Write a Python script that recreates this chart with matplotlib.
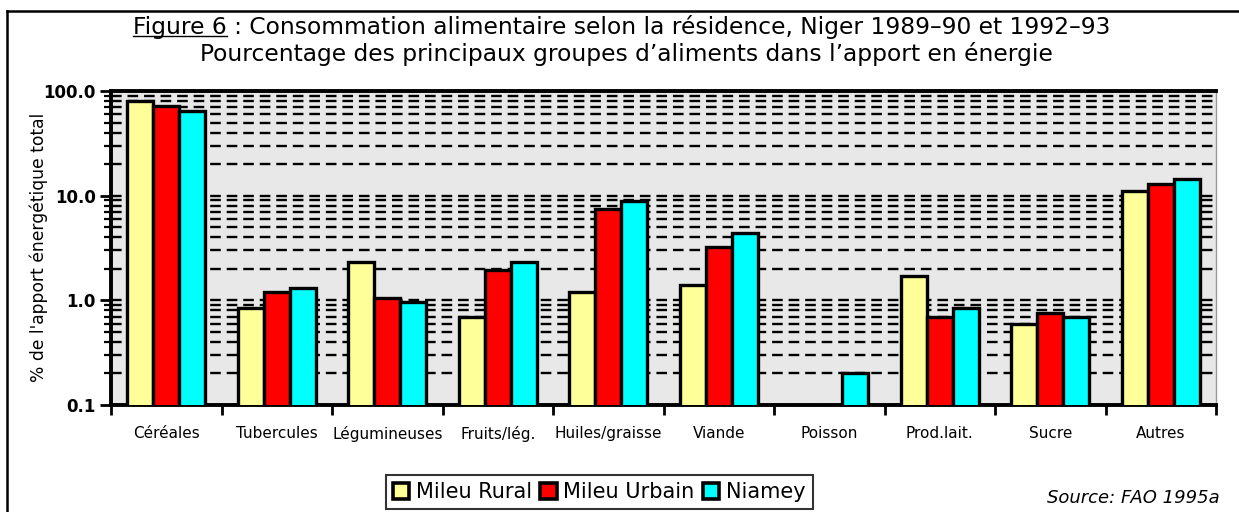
import numpy as np
import matplotlib
matplotlib.use('Agg')
import matplotlib.pyplot as plt
from matplotlib.lines import Line2D
from matplotlib.patches import Patch
from matplotlib.ticker import LogLocator, NullFormatter, FixedLocator

categories = ["Céréales", "Tubercules", "Légumineuses", "Fruits/lég.", "Huiles/graisse",
              "Viande", "Poisson", "Prod.lait.", "Sucre", "Autres"]
rural = [80, 0.85, 2.3, 0.7, 1.2, 1.4, np.nan, 1.7, 0.6, 11]
urbain = [72, 1.2, 1.05, 1.95, 7.5, 3.2, np.nan, 0.7, 0.75, 13]
niamey = [65, 1.3, 0.97, 2.3, 8.8, 4.4, 0.2, 0.85, 0.7, 14.5]
series_names = ["Mileu Rural", "Mileu Urbain", "Niamey"]
colors = ["#FFFF99", "#FF0000", "#00FFFF"]
yticks = [0.1, 1, 10, 100]
ytick_labels = ["0.1", "1.0", "10.0", "100.0"]
title1 = "Figure 6 : Consommation alimentaire selon la résidence, Niger 1989–90 et 1992–93"
title2 = "Pourcentage des principaux groupes d’aliments dans l’apport en énergie"
ylabel = "% de l'apport énergétique total"
source = "Source: FAO 1995a"

SANS = ['DejaVu Sans']

W, H = 1239, 512
fig = plt.figure(figsize=(W / 100, H / 100), dpi=100)
fig.patch.set_facecolor('white')
ax = fig.add_axes([111 / W, 1 - 405 / H, (1216 - 111) / W, (405 - 91) / H])
ax.set_facecolor('#E8E8E8')
ax.set_yscale('log')

x = np.arange(len(categories))
w = 0.235
for k, (vals, col) in enumerate(zip([rural, urbain, niamey], colors)):
    ax.bar(x + (k - 1) * w, vals, w, color=col, edgecolor='black', linewidth=2.4, zorder=3)

ax.set_ylim(0.1, 100)
ax.set_xlim(-0.5, len(categories) - 0.5)

ax.yaxis.set_major_locator(FixedLocator(yticks))
ax.set_yticklabels(ytick_labels, family=SANS, fontsize=12, fontweight='bold')
ax.yaxis.set_minor_locator(LogLocator(base=10, subs=range(2, 10)))
ax.yaxis.set_minor_formatter(NullFormatter())
ax.tick_params(axis='y', which='major', length=8, width=2, direction='out', pad=3)
ax.tick_params(axis='y', which='minor', length=5, width=1.6, direction='out')

ax.set_xticks(np.arange(-0.5, len(categories)), minor=False)
ax.set_xticklabels([])
ax.set_xticks(x, minor=True)
ax.set_xticklabels(categories, minor=True, family=SANS, fontsize=11)
ax.tick_params(axis='x', which='major', length=7, width=2, direction='out')
ax.tick_params(axis='x', which='minor', length=0, pad=15)

ax.yaxis.grid(True, which='both', color='black', linestyle=(0, (4.5, 2.5)), linewidth=1.7)
ax.xaxis.grid(False)
ax.set_axisbelow(True)

for s in ['top', 'left', 'bottom']:
    ax.spines[s].set_linewidth(2.8)
    ax.spines[s].set_color('black')
ax.spines['right'].set_linewidth(1.0)
ax.spines['right'].set_color('#999999')

fig.text(39 / W, 1 - 247 / H, ylabel, rotation=90, ha='center', va='center',
         family=SANS, fontsize=12.3)

# Titles: fit font size to the reference width
fig.canvas.draw()
r = fig.canvas.get_renderer()
probe = fig.text(0, 0, title1, family=SANS, fontsize=10)
pw = probe.get_window_extent(r).width
probe.remove()
tsize = 10 * 975 / pw

t1 = fig.text(622 / W, 1 - 27 / H, title1, ha='center', va='center', family=SANS, fontsize=tsize)
t2 = fig.text(626 / W, 1 - 54 / H, title2, ha='center', va='center', family=SANS, fontsize=tsize)

fig.canvas.draw()
bb = t1.get_window_extent(r)
tmp = fig.text(bb.x0 / W, 0.5, "Figure 6", family=SANS, fontsize=tsize, ha='left')
bb2 = tmp.get_window_extent(r)
tmp.remove()
uy = (bb.y0 + 3) / H
fig.add_artist(Line2D([bb.x0 / W, (bb.x0 + bb2.width) / W], [uy, uy],
                      transform=fig.transFigure, color='black', lw=1.0))

# Outer frame (left and top)
fig.add_artist(Line2D([7 / W, 7 / W], [0, 1 - 11 / H], transform=fig.transFigure, color='black', lw=1.8))
fig.add_artist(Line2D([7 / W, 1], [1 - 11 / H, 1 - 11 / H], transform=fig.transFigure, color='black', lw=1.8))

# Legend
handles = [Patch(facecolor=c, edgecolor='black', linewidth=2.6) for c in colors]
leg = fig.legend(handles, series_names, loc='center', bbox_to_anchor=(599 / W, 1 - 492 / H),
                 ncol=3, frameon=True, fancybox=False, edgecolor='black',
                 prop={'family': SANS, 'size': 15},
                 handlelength=0.8, handleheight=0.8, handletextpad=0.3, columnspacing=0.4,
                 borderpad=0.35, borderaxespad=0)
leg.get_frame().set_linewidth(1.5)

fig.text(1047 / W, 1 - 498 / H, source, ha='left', va='center', family=SANS,
         fontsize=13, style='italic')

fig.savefig('out.png', dpi=100)
